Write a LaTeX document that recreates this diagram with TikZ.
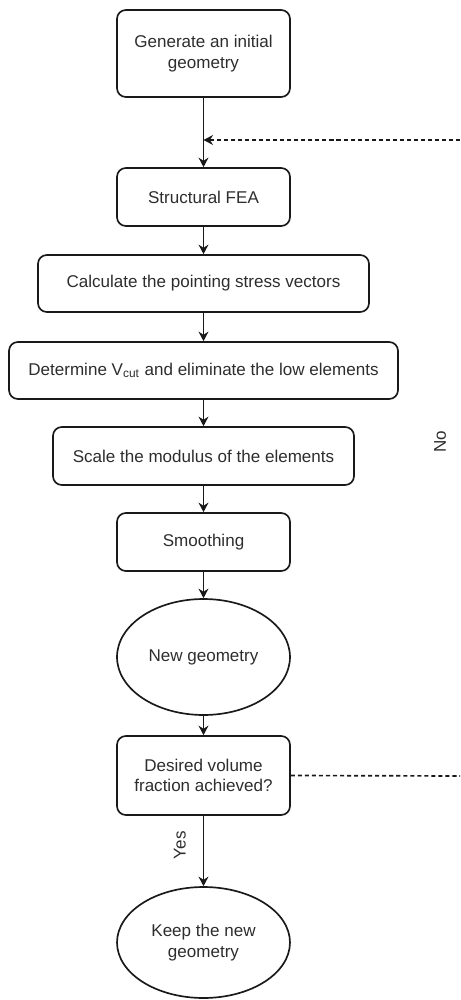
\documentclass[tikz,border=0pt]{standalone}
\usepackage{fontspec}
\setmainfont{Liberation Sans}
\usepackage{xcolor}
\definecolor{flowline}{RGB}{25,25,25}
\definecolor{flowtext}{RGB}{45,45,45}
\usepackage{tikz}
\usetikzlibrary{positioning,calc,shapes.geometric,arrows.meta}

\tikzset{
  stepbox/.style={draw=flowline,line width=0.95pt,rounded corners=5pt,align=center,
    text=flowtext,font=\fontsize{9.7}{11.6}\selectfont,inner sep=2pt},
  ovalbox/.style={draw=flowline,line width=0.95pt,ellipse,align=center,inner sep=0pt,
    text=flowtext,font=\fontsize{9.7}{11.6}\selectfont,minimum width=3.46cm},
  flow/.style={draw=flowline,line width=0.95pt,-{Stealth[length=5.4pt,width=5.6pt]}},
  loopback/.style={draw=flowline,line width=0.95pt,dash pattern=on 2.3pt off 1.7pt},
  branch/.style={text=flowtext,font=\fontsize{9.7}{11.6}\selectfont,rotate=90}
}

\begin{document}
\begin{tikzpicture}[x=0.02cm,y=-0.02cm]
  \useasboundingbox (0,0) rectangle (460,1000);

  \node[stepbox,minimum width=3.46cm,minimum height=1.74cm] (gen) at (203.5,53.5) {Generate an initial\\geometry};
  \node[stepbox,minimum width=3.46cm,minimum height=1.16cm] (fea) at (203.5,197) {Structural FEA};
  \node[stepbox,minimum width=6.62cm,minimum height=1.14cm] (calc) at (203.5,283.5) {Calculate the pointing stress vectors};
  \node[stepbox,minimum width=7.78cm,minimum height=1.14cm] (vcut) at (203.5,370.5) {Determine V\textsubscript{cut} and eliminate the low elements};
  \node[stepbox,minimum width=6.02cm,minimum height=1.16cm] (scale) at (203.5,456) {Scale the modulus of the elements};
  \node[stepbox,minimum width=3.46cm,minimum height=1.16cm] (smooth) at (203.5,542) {Smoothing};
  \node[ovalbox,minimum height=2.32cm] (newgeo) at (203.5,657) {New geometry};
  \node[stepbox,minimum width=3.46cm,minimum height=1.58cm] (check) at (203.5,775.5) {Desired volume\\fraction achieved?};
  \node[ovalbox,minimum height=2.22cm] (keep) at (203.5,942.5) {Keep the new\\geometry};

  \draw[flow] (gen) -- (fea);
  \draw[flow] (fea) -- (calc);
  \draw[flow] (calc) -- (vcut);
  \draw[flow] (vcut) -- (scale);
  \draw[flow] (scale) -- (smooth);
  \draw[flow] (smooth) -- (newgeo);
  \draw[flow] (newgeo) -- (check);
  \draw[flow] (check) -- node[branch,pos=0.42,anchor=south,yshift=0.22cm] (yes) {Yes} (keep);

  \coordinate (loopout) at (460,776);
  \coordinate (loopin) at (460,140);
  \draw[loopback] (check.east) -- (loopout);
  \draw[loopback,-{Stealth[length=5.4pt,width=5.6pt]}] (loopin) -- (gen.south |- loopin);
  \node[branch] (no) at (440,442) {No};
\end{tikzpicture}
\end{document}
